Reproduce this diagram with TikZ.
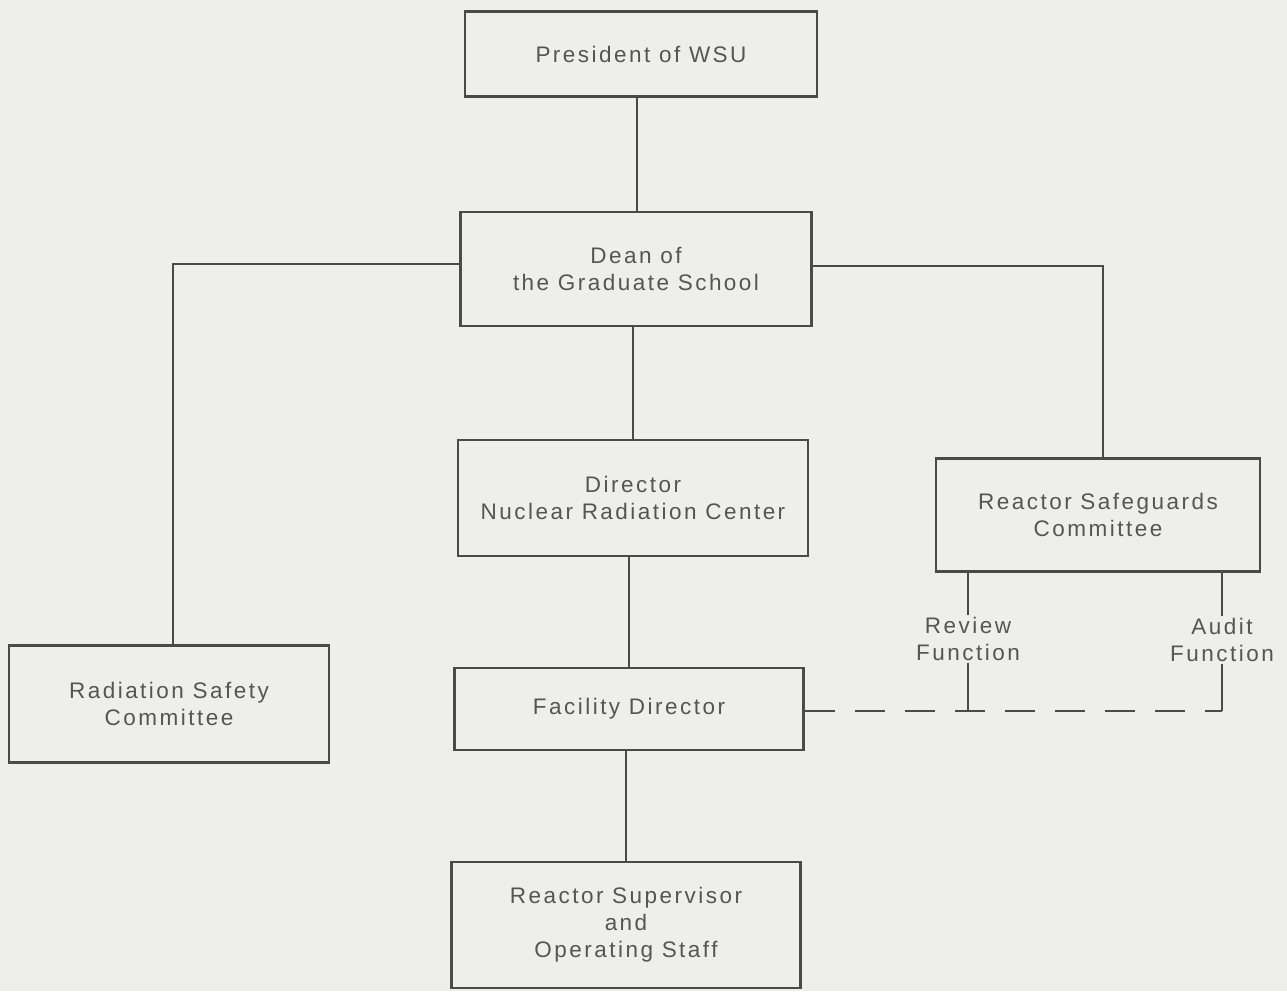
\documentclass[tikz,border=0pt]{standalone}
\usepackage{fontspec}
\setmainfont{Liberation Sans}[LetterSpace=11]
\definecolor{paper}{HTML}{EEEEEB}
\definecolor{ink}{HTML}{4A4A4A}
\definecolor{inktext}{HTML}{555555}

\begin{document}
\begin{tikzpicture}[x=1pt,y=-1pt,
    box/.style={draw=ink,line width=2.7pt,fill=paper,align=center,
        text=inktext,font=\fontsize{22.5}{27}\selectfont,inner sep=0pt},
    lbl/.style={align=center,text=inktext,font=\fontsize{22.5}{27}\selectfont,inner sep=2pt},
    link/.style={draw=ink,line width=2.7pt},
    dashlink/.style={draw=ink,line width=2.7pt,dash pattern=on 30pt off 20pt}]

    \fill[paper] (0,0) rectangle (1287,991);
    \useasboundingbox (0,0) rectangle (1287,991);

    % boxes
    \node[box,minimum width=352pt,minimum height=85pt] (pres) at (641,54) {President of WSU};
    \node[box,minimum width=351pt,minimum height=114pt] (dean) at (636,269) {Dean of\\the Graduate School};
    \node[box,minimum width=350pt,minimum height=116pt] (dir) at (633,498) {Director\\Nuclear Radiation Center};
    \node[box,minimum width=349pt,minimum height=82pt] (fac) at (629,709) {Facility Director};
    \node[box,minimum width=349pt,minimum height=126pt] (sup) at (626,925) {Reactor Supervisor\\and\\Operating Staff};
    \node[box,minimum width=320pt,minimum height=117pt] (rsc) at (169,704) {Radiation Safety\\Committee};
    \node[box,minimum width=324pt,minimum height=113pt] (rsg) at (1098,515) {Reactor Safeguards\\Committee};

    % functions of the safeguards committee
    \node[lbl] (review) at (968,639) {Review\\Function};
    \node[lbl] (audit) at (1222,640) {Audit\\Function};
    \coordinate (revj) at (968,711);
    \coordinate (audj) at (1222,711);

    % lines of authority
    \draw[link] (pres.south -| 637,0) -- (dean.north -| 637,0);
    \draw[link] (dean.west |- 0,264) -| (rsc.north -| 173,0);
    \draw[link] (dean.east |- 0,266) -| (rsg.north -| 1103,0);
    \draw[link] (dir.north |- dean.south) -- (dir.north);
    \draw[link] (fac.north |- dir.south) -- (fac.north);
    \draw[link] (sup.north |- fac.south) -- (sup.north);

    \draw[link] (rsg.south -| review) -- (review.north);
    \draw[link] (rsg.south -| audit) -- (audit.north);
    \draw[link] (review.south) -- (revj);
    \draw[link] (audit.south) -- (audj);
    \draw[dashlink] (fac.east |- audj) -- (audj);

\end{tikzpicture}
\end{document}
